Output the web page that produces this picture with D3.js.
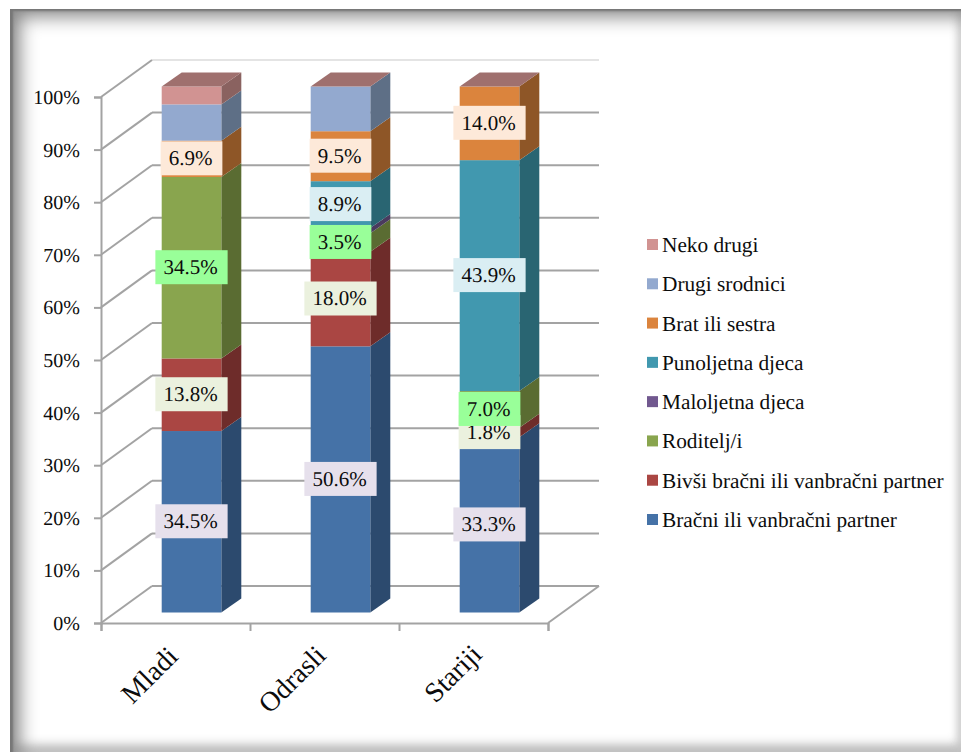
<!DOCTYPE html>
<html>
<head>
<meta charset="utf-8">
<script src="https://cdn.jsdelivr.net/npm/d3@7"></script>
<style>
html,body{margin:0;padding:0;background:#fff;width:961px;height:752px;overflow:hidden}
#frame{position:absolute;left:10px;top:9px;width:951px;height:743px;background:#fff;
box-shadow:inset 3px 2px 2px #777, inset 10px 8px 18px #8a8a8a, inset -1px 0 8px #e2e2e2, inset 0 -6px 12px #b0b0b0;}
svg{position:absolute;left:0;top:0}
text{font-family:"Liberation Serif","Times New Roman",serif;fill:#0c0c0c;text-rendering:geometricPrecision}
</style>
</head>
<body>
<div id="frame"></div>
<svg id="chart" width="961" height="752"></svg>
<script>
const categories = ["Mladi","Odrasli","Stariji"];
const seriesNames = ["Bračni ili vanbračni partner","Bivši bračni ili vanbračni partner","Roditelj/i","Maloljetna djeca","Punoljetna djeca","Brat ili sestra","Drugi srodnici","Neko drugi"];
const bracni   = [34.5,50.6,33.3];
const bivsi    = [13.8,18.0,1.8];
const roditelj = [34.5,3.5,7.0];
const maloljetna = [0,1.0,0];
const punoljetna = [0,8.9,43.9];
const brat     = [6.9,9.5,14.0];
const drugi    = [6.9,8.5,0];
const neko     = [3.4,0,0];
const seriesValues = [bracni,bivsi,roditelj,maloljetna,punoljetna,brat,drugi,neko];
const labelShown = [true,true,true,false,true,true,false,false];
const frontColors = ["#4572a7","#aa4643","#89a54e","#71588f","#4198af","#db843d","#93a9cf","#d19392"];
const sideColors  = ["#2c4a6e","#6e2c2a","#5a6c32","#4a3a5e","#296572","#8e5627","#5e6f86","#8a6260"];
const labelColors = ["#e6e0ec","#ebf1de","#99ff99","#e6e0ec","#daeef3","#fde9d9","#dce6f1","#f2dcdb"];
const yTicks = [0,10,20,30,40,50,60,70,80,90,100];

const svg = d3.select("#chart");
const plot = {left:101,right:548,bottom:623,top:97,wallX:51,wallY:37,barX:16,barY:10.5,depthX:20,depthY:14,barWidth:59.6};
const catNudge = {"Mladi":[0,0],"Odrasli":[-1,-1],"Stariji":[6,-2]};
const grid = "#a3a3a3";

const x = d3.scaleBand().domain(categories).range([plot.left,plot.right]);
const y = d3.scaleLinear().domain([0,100]).range([plot.bottom,plot.top]);

// walls
const gridG = svg.append("g").attr("fill","none").attr("stroke",grid).attr("stroke-width",2);
gridG.selectAll("line.h").data(yTicks).join("line").attr("class","h")
  .attr("x1",plot.left+plot.wallX).attr("x2",plot.right+plot.wallX)
  .attr("y1",d=>y(d)-plot.wallY).attr("y2",d=>y(d)-plot.wallY)
  .attr("stroke",d=>d===100?"#e4e4e4":grid);
gridG.selectAll("line.d").data(yTicks).join("line").attr("class","d")
  .attr("x1",plot.left).attr("x2",plot.left+plot.wallX)
  .attr("y1",d=>y(d)).attr("y2",d=>y(d)-plot.wallY);
gridG.append("line")
  .attr("x1",plot.right).attr("x2",plot.right+plot.wallX)
  .attr("y1",y(0)).attr("y2",y(0)-plot.wallY);

// axes
const yAxis = d3.axisLeft(y).tickValues(yTicks).tickFormat(d=>d+"%").tickSize(7).tickPadding(14);
const yG = svg.append("g").attr("transform",`translate(${plot.left},0)`).call(yAxis);
yG.selectAll("path,line").attr("stroke",grid).attr("stroke-width",2);
yG.selectAll("text").attr("font-size",20).attr("font-family",null).attr("dy","0.32em");

const xAxisScale = d3.scalePoint().domain(d3.range(categories.length+1)).range([plot.left,plot.right]);
const xG = svg.append("g").attr("transform",`translate(0,${plot.bottom})`)
  .call(d3.axisBottom(xAxisScale).tickSize(8).tickFormat(""));
xG.selectAll("path,line").attr("stroke",grid).attr("stroke-width",2);

svg.append("g").selectAll("text").data(categories).join("text")
  .attr("text-anchor","end").attr("font-size",27.8)
  .attr("transform",d=>`translate(${x(d)+x.bandwidth()/2+4+catNudge[d][0]},${plot.bottom+35+catNudge[d][1]}) rotate(-45)`)
  .text(d=>d);

// stacked 3D bars
const rows = categories.map((c,i)=>{const r={cat:c};seriesNames.forEach((s,j)=>r[s]=seriesValues[j][i]);return r;});
const stacked = d3.stack().keys(seriesNames)(rows);
const barG = svg.append("g");
const bx = c => x(c)+x.bandwidth()/2-plot.barWidth/2+plot.barX;
stacked.forEach((layer,j)=>{
  const g = barG.append("g");
  g.selectAll("polygon").data(layer).join("polygon")
    .attr("fill",sideColors[j])
    .attr("points",d=>{
      const l=bx(d.data.cat)+plot.barWidth, y0=y(d[0])-plot.barY, y1=y(d[1])-plot.barY;
      return [[l,y0],[l+plot.depthX,y0-plot.depthY],[l+plot.depthX,y1-plot.depthY],[l,y1]].join(" ");
    });
  g.selectAll("rect").data(layer).join("rect")
    .attr("x",d=>bx(d.data.cat)).attr("width",plot.barWidth)
    .attr("y",d=>y(d[1])-plot.barY).attr("height",d=>y(d[0])-y(d[1]))
    .attr("fill",frontColors[j]);
});
// tops
barG.append("g").selectAll("polygon").data(categories).join("polygon")
  .attr("fill","#9f706e")
  .attr("points",c=>{
    const l=bx(c), t=y(100)-plot.barY;
    return [[l,t],[l+plot.barWidth,t],[l+plot.barWidth+plot.depthX,t-plot.depthY],[l+plot.depthX,t-plot.depthY]].join(" ");
  });

// data labels
const labelG = svg.append("g");
stacked.forEach((layer,j)=>{
  if(!labelShown[j]) return;
  layer.forEach(d=>{
    const v=d[1]-d[0];
    if(!(v>0)) return;
    const cx=bx(d.data.cat)+plot.barWidth/2, cy=y((d[0]+d[1])/2)-plot.barY-0.5;
    const g=labelG.append("g");
    const t=g.append("text").attr("x",cx-1).attr("y",cy).attr("dy","0.33em")
      .attr("text-anchor","middle").attr("font-size",21).text(v.toFixed(1)+"%");
    const w=t.node().getComputedTextLength()+18;
    g.insert("rect","text").attr("x",cx-w/2).attr("y",cy-17).attr("width",w).attr("height",34).attr("fill",labelColors[j]);
  });
});

// legend
const legendOrder = seriesNames.map((s,i)=>i).reverse();
const lg = d3.scalePoint().domain(legendOrder).range([245,520]);
const leg = svg.append("g").selectAll("g").data(legendOrder).join("g")
  .attr("transform",i=>`translate(647,${lg(i)})`);
leg.append("rect").attr("y",-6).attr("width",11).attr("height",11).attr("fill",i=>frontColors[i]);
leg.append("text").attr("x",15).attr("dy","0.33em").attr("font-size",21.3).text(i=>seriesNames[i]);
</script>
</body>
</html>
